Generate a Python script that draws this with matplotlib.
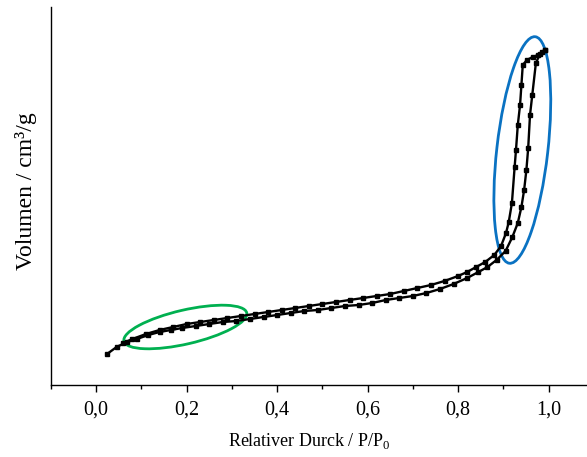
import matplotlib
matplotlib.use("Agg")
import matplotlib.pyplot as plt
import matplotlib.transforms as mtransforms
from matplotlib.patches import Ellipse
from matplotlib.ticker import MultipleLocator, FuncFormatter

plt.rcParams["font.family"] = ["Liberation Serif", "DejaVu Serif"]

# ====== DATA (volume in arbitrary units) ======
ads_p = [0.024, 0.045, 0.068, 0.09, 0.115, 0.14, 0.165, 0.19, 0.22, 0.25,
         0.28, 0.31, 0.34, 0.37, 0.40, 0.43, 0.46, 0.49, 0.52, 0.55,
         0.58, 0.61, 0.64, 0.67, 0.70, 0.73, 0.76, 0.79, 0.82, 0.845,
         0.865, 0.885, 0.905, 0.92, 0.932, 0.94, 0.946, 0.951, 0.955, 0.959,
         0.964, 0.972, 0.981, 0.992]
ads_v = [31, 38, 43, 46, 50, 53, 55, 57, 59, 61,
         63, 64, 66, 68, 70, 72, 74, 75, 77, 79,
         80, 82, 85, 87, 89, 92, 96, 101, 107, 113,
         118, 125, 134, 148, 162, 178, 195, 215, 237, 270,
         290, 322, 331, 335]

des_p = [0.992, 0.985, 0.977, 0.965, 0.952, 0.943, 0.940, 0.937, 0.932, 0.928,
         0.925, 0.919, 0.912, 0.906, 0.895, 0.880, 0.86, 0.84, 0.82, 0.80,
         0.77, 0.74, 0.71, 0.68, 0.65, 0.62, 0.59, 0.56, 0.53, 0.50,
         0.47, 0.44, 0.41, 0.38, 0.35, 0.32, 0.29, 0.26, 0.23, 0.20,
         0.17, 0.14, 0.11, 0.08, 0.06]
des_v = [335, 333, 330, 328, 325, 320, 300, 280, 260, 235,
         218, 182, 163, 152, 139, 130, 123, 118, 113, 109,
         104, 100, 97, 94, 91, 89, 87, 85, 83, 81,
         79, 77, 75, 73, 71, 69, 67, 65, 63, 61,
         58, 55, 51, 46, 42]

# highlighted regions: (centre p, centre v, width in, height in, angle deg, colour)
micro_region = (0.197, 58, 1.26, 0.34, 13, "#00b050")
meso_region = (0.942, 235, 0.51, 2.28, -6.5, "#0a72c2")


def main():
    fig = plt.figure(figsize=(5.87, 4.57), dpi=100)
    ax = fig.add_axes([51 / 587, 72 / 457, 536 / 587, 378 / 457])

    line_kw = dict(color="black", lw=1.7, marker="s", ms=3.4, mfc="black", mec="black")
    ax.plot(ads_p, ads_v, **line_kw)
    ax.plot(des_p, des_v, **line_kw)

    for cx, cy, w, h, ang, col in (micro_region, meso_region):
        tr = fig.dpi_scale_trans + mtransforms.ScaledTranslation(cx, cy, ax.transData)
        ax.add_patch(Ellipse((0, 0), w, h, angle=ang, transform=tr,
                             fill=False, ec=col, lw=2.0, clip_on=False))

    ax.set_xlim(-0.1, 1.085)
    ax.set_ylim(0, 378)

    for s in ("top", "right"):
        ax.spines[s].set_visible(False)
    ax.spines["left"].set_linewidth(1.0)
    ax.spines["bottom"].set_linewidth(1.0)

    ax.xaxis.set_major_locator(MultipleLocator(0.2))
    ax.xaxis.set_minor_locator(MultipleLocator(0.1))
    ax.xaxis.set_major_formatter(FuncFormatter(lambda v, _: f"{v:.1f}".replace(".", ",")))
    ax.tick_params(axis="x", which="major", direction="out", length=5, width=1.0,
                   labelsize=14.5, pad=6)
    ax.tick_params(axis="x", which="minor", direction="out", length=3, width=1.0)
    ax.set_yticks([])

    ax.set_xlabel(r"Relativer Durck / P/P$_\mathregular{0}$", fontsize=13)
    ax.xaxis.set_label_coords(0.481, -0.122)
    ax.set_ylabel("Volumen / cm³/g", fontsize=17)
    ax.yaxis.set_label_coords(-0.026, 0.513)

    fig.savefig("out.png", dpi=100)


if __name__ == "__main__":
    main()
